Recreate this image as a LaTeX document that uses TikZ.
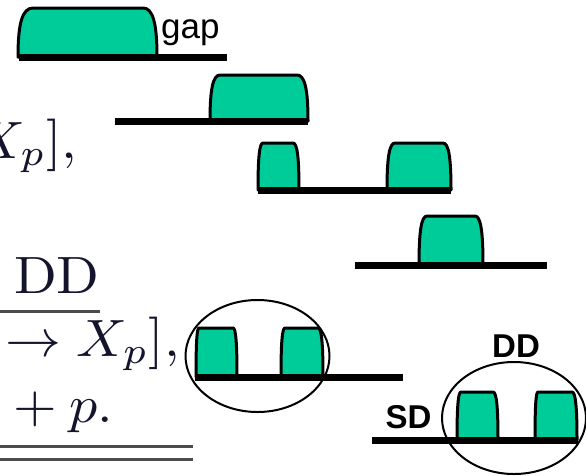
\documentclass[tikz,border=0pt]{standalone}
\usepackage{amsmath}
\usepackage{fontspec}
\newfontfamily\arialfont{Liberation Sans}
\usetikzlibrary{shapes.geometric}
\definecolor{pulsegreen}{RGB}{0,204,153}
\definecolor{mathink}{RGB}{20,20,45}
\tikzset{pulse/.style={fill=pulsegreen,draw=black,line width=3pt,line join=round}}
\tikzset{wire/.style={line width=7pt}}
\tikzset{ring/.style={draw,ellipse,line width=2pt,minimum width=144pt,minimum height=112pt,inner sep=0pt}}
\tikzset{tag/.style={font=\arialfont\bfseries\fontsize{33}{33}\selectfont,inner sep=0pt,anchor=base}}
\tikzset{eqn/.style={font=\fontsize{10}{10}\selectfont,xscale=5.6,yscale=5.25,transform shape,text=mathink,inner sep=0pt,anchor=base west}}
\tikzset{eqnrule/.style={draw=black!70,line width=3pt}}

\begin{document}
\begin{tikzpicture}[x=1pt,y=-1pt] % pixel grid, y going down
  \useasboundingbox (0,0) rectangle (586,475);

  % cropped equation on the left
  \node[eqn] (xtop) at (-27,158) {$X_p],$};
  \node[eqn] (num) at (13,293) {$\mathrm{DD}$};
  \node[eqn] (arrowrow) at (4,356) {$\to X_p],$};
  \node[eqn] (sumrow) at (0,422) {${}+p.$};
  \coordinate (fracl) at (-2,311.5);
  \coordinate (fracr) at (100,311.5);
  \draw[eqnrule] (fracl) -- (fracr);
  \draw[eqnrule] (-2,446) -- (193,446);
  \draw[eqnrule] (-2,459) -- (193,459);

  % pulses: bottom left / top left / top right / bottom right / base / top
  \foreach \xa/\xb/\xc/\xd/\yb/\yt in {18/33/143/157/57/8, 210/220/297/308/121/75,
      258/263/293/299/190/143, 387/395/443/451/190/143, 419/427/475/483/265/216,
      196/199/233/237/377/328, 281/285/318/323/377/328,
      457/461/493/498/440/392, 535/538/572/577/440/392}
    \draw[pulse] (\xa,\yb) .. controls (\xa,{\yt+0.3*(\yb-\yt)}) and ({\xa+0.3*(\xb-\xa)},\yt) .. (\xb,\yt)
      -- (\xc,\yt) .. controls ({\xd-0.3*(\xd-\xc)},\yt) and (\xd,{\yt+0.3*(\yb-\yt)}) .. (\xd,\yb) -- cycle;

  % base lines
  \foreach \xa/\xb/\y in {19/227/57, 115/308/121, 258/451/190, 355/547/265, 195/403/377, 372/578/440}
    \draw[wire] (\xa,\y) -- (\xb,\y);

  \node[ring] (ringsd) at (257.5,356) {};
  \node[ring] (ringdd) at (514,418) {};

  \node[anchor=base west,inner sep=0pt,font=\arialfont\fontsize{35}{35}\selectfont] (gap) at (161,38) {gap};
  \node[tag] (dd) at (516,357) {DD};
  \node[tag] (sd) at (408.5,428) {SD};
\end{tikzpicture}
\end{document}
